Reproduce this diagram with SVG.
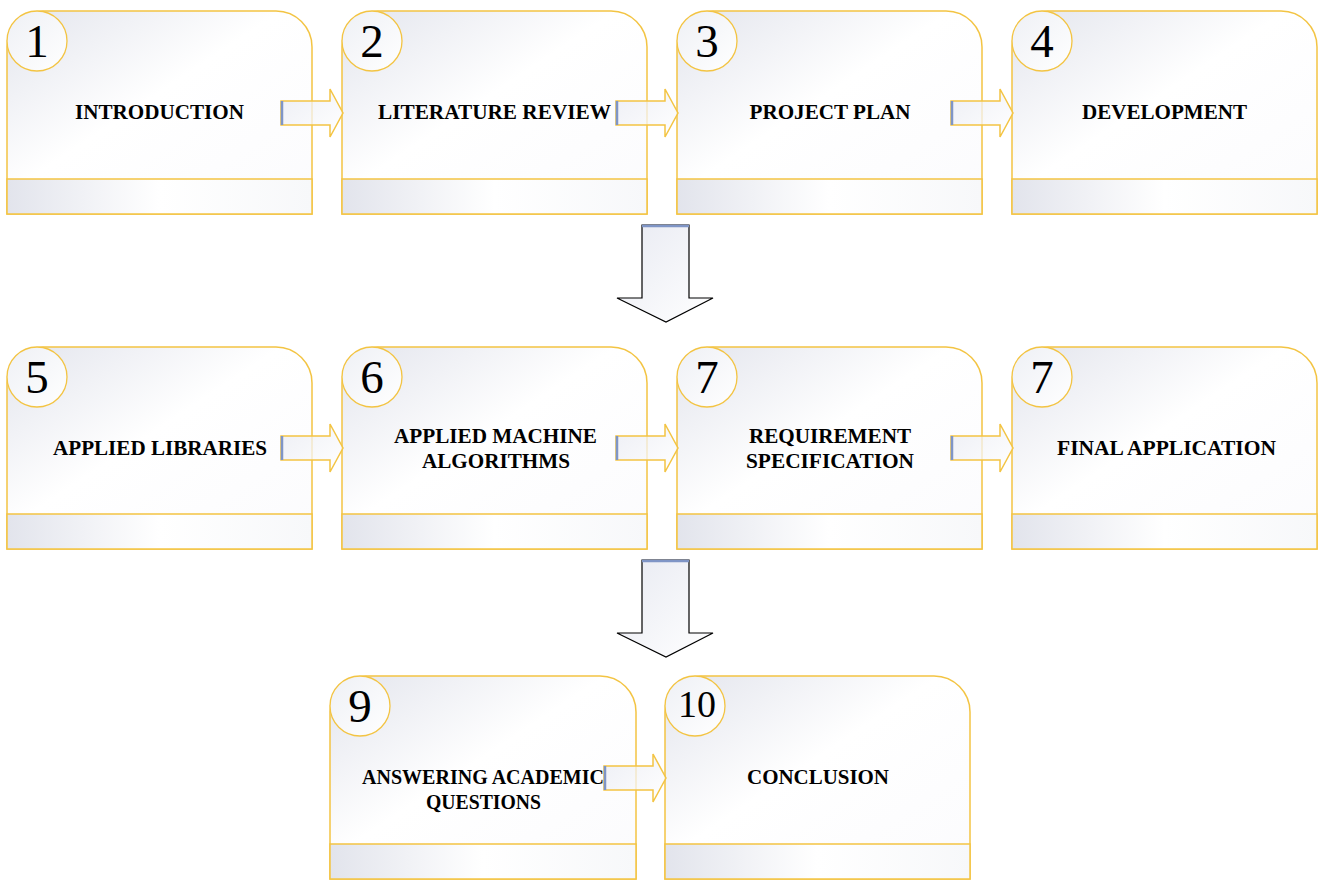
<svg xmlns="http://www.w3.org/2000/svg" width="1320" height="881" viewBox="0 0 1320 881">
<defs>
<linearGradient id="gBox" x1="0" y1="0" x2="1" y2="1">
<stop offset="0" stop-color="#e3e5ed"/>
<stop offset="0.45" stop-color="#ffffff"/>
<stop offset="1" stop-color="#fbfbfd"/>
</linearGradient>
<linearGradient id="gBand" x1="0" y1="0" x2="1" y2="0">
<stop offset="0" stop-color="#e2e4ec"/>
<stop offset="0.5" stop-color="#ffffff"/>
<stop offset="1" stop-color="#f7f8fa"/>
</linearGradient>
<linearGradient id="gArrow" x1="0" y1="0" x2="1" y2="1">
<stop offset="0" stop-color="#e8eaf2"/>
<stop offset="1" stop-color="#ffffff"/>
</linearGradient>
<linearGradient id="gCircle" x1="0" y1="0" x2="1" y2="1">
<stop offset="0" stop-color="#eef0f5"/>
<stop offset="1" stop-color="#ffffff"/>
</linearGradient>
</defs>
<style>
.box{fill:url(#gBox);stroke:#f3c443;stroke-width:1.5}
.band{fill:url(#gBand);stroke:#f3c443;stroke-width:1.5}
.num{fill:url(#gCircle);stroke:#f3c443;stroke-width:1.3}
.n{font-family:"Liberation Serif","Times New Roman",serif;font-size:47px;fill:#000;text-anchor:middle}
.t{font-family:"Liberation Serif","Times New Roman",serif;font-size:20px;font-weight:bold;fill:#000;text-anchor:middle}
.ra{fill:url(#gArrow);fill-opacity:0.75;stroke:#f3c443;stroke-width:1.5}
.edge{stroke:#7f95c6;stroke-width:2.5}
.da{fill:url(#gArrow);stroke:#000;stroke-width:1.2}
</style>

<g id="node1">
<path class="box" d="M7,214 V47 A36,36 0 0 1 43,11 H276 A36,36 0 0 1 312,47 V214 Z"/>
<rect class="band" x="7" y="179" width="305" height="35"/>
<circle class="num" cx="37" cy="41" r="30"/>
<text class="n" x="37" y="57">1</text>
<text class="t" x="159.5" y="119" textLength="169" lengthAdjust="spacingAndGlyphs">INTRODUCTION</text>
</g>
<g id="node2">
<path class="box" d="M342,214 V47 A36,36 0 0 1 378,11 H611 A36,36 0 0 1 647,47 V214 Z"/>
<rect class="band" x="342" y="179" width="305" height="35"/>
<circle class="num" cx="372" cy="41" r="30"/>
<text class="n" x="372" y="57">2</text>
<text class="t" x="494.5" y="119" textLength="233" lengthAdjust="spacingAndGlyphs">LITERATURE REVIEW</text>
</g>
<g id="node3">
<path class="box" d="M677,214 V47 A36,36 0 0 1 713,11 H946 A36,36 0 0 1 982,47 V214 Z"/>
<rect class="band" x="677" y="179" width="305" height="35"/>
<circle class="num" cx="707" cy="41" r="30"/>
<text class="n" x="707" y="57">3</text>
<text class="t" x="830" y="119" textLength="161" lengthAdjust="spacingAndGlyphs">PROJECT PLAN</text>
</g>
<g id="node4">
<path class="box" d="M1012,214 V47 A36,36 0 0 1 1048,11 H1281 A36,36 0 0 1 1317,47 V214 Z"/>
<rect class="band" x="1012" y="179" width="305" height="35"/>
<circle class="num" cx="1042" cy="41" r="30"/>
<text class="n" x="1042" y="57">4</text>
<text class="t" x="1164.5" y="119" textLength="165" lengthAdjust="spacingAndGlyphs">DEVELOPMENT</text>
</g>

<g id="node5">
<path class="box" d="M7,549 V383 A36,36 0 0 1 43,347 H276 A36,36 0 0 1 312,383 V549 Z"/>
<rect class="band" x="7" y="514" width="305" height="35"/>
<circle class="num" cx="37" cy="377" r="30"/>
<text class="n" x="37" y="393">5</text>
<text class="t" x="160" y="455" textLength="214" lengthAdjust="spacingAndGlyphs">APPLIED LIBRARIES</text>
</g>
<g id="node6">
<path class="box" d="M342,549 V383 A36,36 0 0 1 378,347 H611 A36,36 0 0 1 647,383 V549 Z"/>
<rect class="band" x="342" y="514" width="305" height="35"/>
<circle class="num" cx="372" cy="377" r="30"/>
<text class="n" x="372" y="393">6</text>
<text class="t" x="495.5" y="443" textLength="203" lengthAdjust="spacingAndGlyphs">APPLIED MACHINE</text>
<text class="t" x="496" y="468" textLength="148" lengthAdjust="spacingAndGlyphs">ALGORITHMS</text>
</g>
<g id="node7">
<path class="box" d="M677,549 V383 A36,36 0 0 1 713,347 H946 A36,36 0 0 1 982,383 V549 Z"/>
<rect class="band" x="677" y="514" width="305" height="35"/>
<circle class="num" cx="707" cy="377" r="30"/>
<text class="n" x="707" y="393">7</text>
<text class="t" x="830" y="443" textLength="162" lengthAdjust="spacingAndGlyphs">REQUIREMENT</text>
<text class="t" x="830" y="468" textLength="168" lengthAdjust="spacingAndGlyphs">SPECIFICATION</text>
</g>
<g id="node8">
<path class="box" d="M1012,549 V383 A36,36 0 0 1 1048,347 H1281 A36,36 0 0 1 1317,383 V549 Z"/>
<rect class="band" x="1012" y="514" width="305" height="35"/>
<circle class="num" cx="1042" cy="377" r="30"/>
<text class="n" x="1042" y="393">7</text>
<text class="t" x="1166.5" y="455" textLength="219" lengthAdjust="spacingAndGlyphs">FINAL APPLICATION</text>
</g>

<g id="node9">
<path class="box" d="M330,879 V712 A36,36 0 0 1 366,676 H600 A36,36 0 0 1 636,712 V879 Z"/>
<rect class="band" x="330" y="844" width="306" height="35"/>
<circle class="num" cx="360" cy="706" r="30"/>
<text class="n" x="360" y="722">9</text>
<text class="t" x="483" y="784" textLength="242" lengthAdjust="spacingAndGlyphs">ANSWERING ACADEMIC</text>
<text class="t" x="483.5" y="809" textLength="115" lengthAdjust="spacingAndGlyphs">QUESTIONS</text>
</g>
<g id="node10">
<path class="box" d="M665,879 V712 A36,36 0 0 1 701,676 H934 A36,36 0 0 1 970,712 V879 Z"/>
<rect class="band" x="665" y="844" width="305" height="35"/>
<circle class="num" cx="695" cy="706" r="30"/>
<text class="n" x="697" y="717" style="font-size:38px">10</text>
<text class="t" x="818" y="784" textLength="142" lengthAdjust="spacingAndGlyphs">CONCLUSION</text>
</g>

<g id="connectors">
<path class="ra" d="M281,101 H330 V89 L343,113 L330,137 V125 H281 Z"/>
<line class="edge" x1="282" y1="101" x2="282" y2="125"/>
<path class="ra" d="M616,101 H665 V89 L678,113 L665,137 V125 H616 Z"/>
<line class="edge" x1="617" y1="101" x2="617" y2="125"/>
<path class="ra" d="M951,101 H1000 V89 L1013,113 L1000,137 V125 H951 Z"/>
<line class="edge" x1="952" y1="101" x2="952" y2="125"/>

<path class="ra" d="M281,436 H330 V424 L343,448 L330,472 V460 H281 Z"/>
<line class="edge" x1="282" y1="436" x2="282" y2="460"/>
<path class="ra" d="M616,436 H665 V424 L678,448 L665,472 V460 H616 Z"/>
<line class="edge" x1="617" y1="436" x2="617" y2="460"/>
<path class="ra" d="M951,436 H1000 V424 L1013,448 L1000,472 V460 H951 Z"/>
<line class="edge" x1="952" y1="436" x2="952" y2="460"/>

<path class="ra" d="M604,766 H653 V754 L666,778 L653,802 V790 H604 Z"/>
<line class="edge" x1="605" y1="766" x2="605" y2="790"/>

<path class="da" d="M642,225 H689 V298 H713 L666,322 L617,298 H642 Z"/>
<line class="edge" x1="642" y1="226" x2="689" y2="226"/>
<path class="da" d="M642,560 H689 V633 H713 L666,657 L617,633 H642 Z"/>
<line class="edge" x1="642" y1="561" x2="689" y2="561"/>
</g>
</svg>
